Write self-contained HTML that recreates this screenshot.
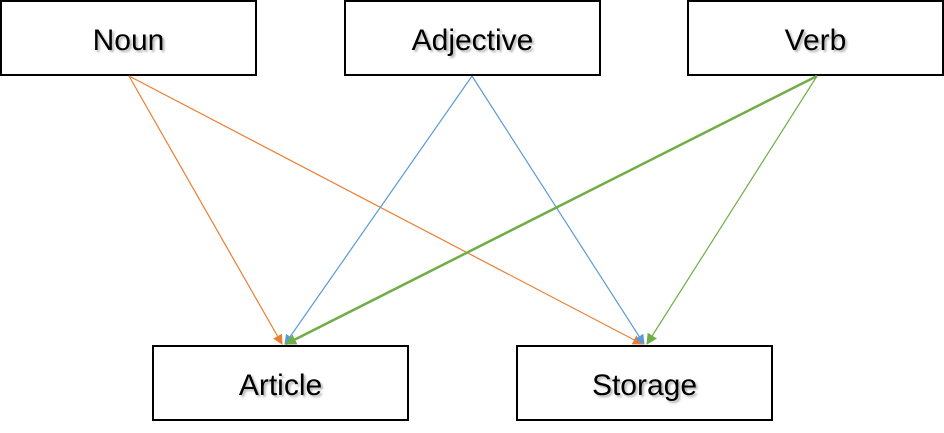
<!DOCTYPE html>
<html><head><style>
body{margin:0;width:944px;height:433px;background:#fff;overflow:hidden;position:relative;font-family:"Liberation Sans",sans-serif}
.b{position:absolute;box-sizing:border-box;border:2px solid #000;background:#fff;display:flex;align-items:center;justify-content:center;font-size:30px;color:#000;padding-top:6px;text-shadow:2px 2px 2px rgba(0,0,0,0.3)}
svg{position:absolute;left:0;top:0}
</style></head><body>
<div class="b" style="left:0;top:0;width:257px;height:76px">Noun</div>
<div class="b" style="left:344px;top:0;width:257px;height:76px">Adjective</div>
<div class="b" style="left:687px;top:0;width:257px;height:76px">Verb</div>
<div class="b" style="left:152px;top:345px;width:257px;height:76px">Article</div>
<div class="b" style="left:516px;top:345px;width:257px;height:76px">Storage</div>
<svg width="944" height="433">
<defs>
<marker id="o" markerWidth="10" markerHeight="10" refX="9" refY="5" orient="auto" markerUnits="userSpaceOnUse" viewBox="0 0 10 10"><path d="M0,0L10,5L0,10z" fill="#ED7D31"/></marker>
<marker id="bl" markerWidth="10" markerHeight="10" refX="9" refY="5" orient="auto" markerUnits="userSpaceOnUse" viewBox="0 0 10 10"><path d="M0,0L10,5L0,10z" fill="#5B9BD5"/></marker>
<marker id="g" markerWidth="11" markerHeight="11" refX="10" refY="5.5" orient="auto" markerUnits="userSpaceOnUse" viewBox="0 0 11 11"><path d="M0,0L11,5.5L0,11z" fill="#70AD47"/></marker>
</defs>
<line x1="129" y1="76" x2="282" y2="344" stroke="#ED7D31" stroke-width="1.2" marker-end="url(#o)"/>
<line x1="129" y1="76" x2="642" y2="344" stroke="#ED7D31" stroke-width="1.2" marker-end="url(#o)"/>
<line x1="472" y1="76" x2="285" y2="344" stroke="#5B9BD5" stroke-width="1.2" marker-end="url(#bl)"/>
<line x1="472" y1="76" x2="644" y2="344" stroke="#5B9BD5" stroke-width="1.2" marker-end="url(#bl)"/>
<line x1="817" y1="76" x2="286" y2="344" stroke="#70AD47" stroke-width="2.5" marker-end="url(#g)"/>
<line x1="817" y1="76" x2="647" y2="344" stroke="#70AD47" stroke-width="1.2" marker-end="url(#g)"/>
</svg>
</body></html>
